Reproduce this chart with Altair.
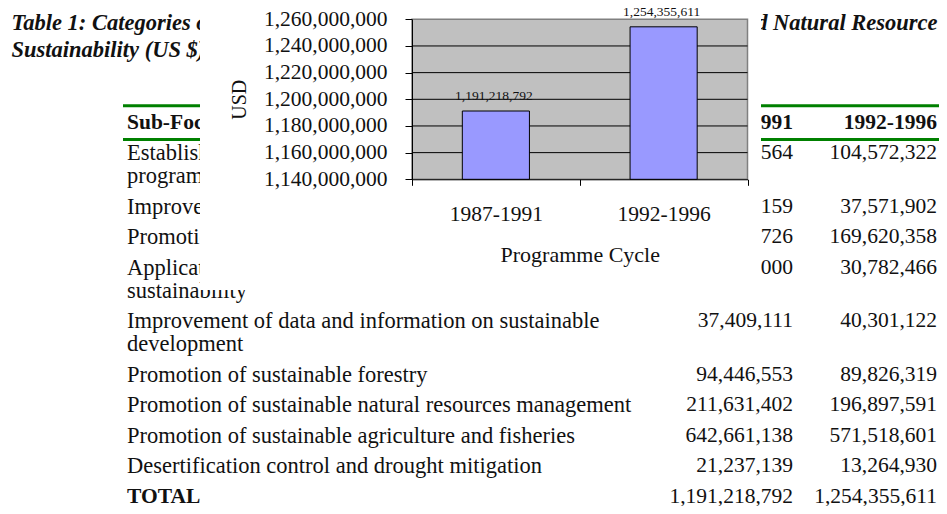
import altair as alt
import pandas as pd

# ---------------- data ----------------
cycles = ["1987-1991", "1992-1996"]
totals = [1191218792, 1254355611]
y_ticks = [1140000000, 1160000000, 1180000000, 1200000000,
           1220000000, 1240000000, 1260000000]

sub_focus = [
    "Establishment of national environmental policies and\nprogrammes",
    "Improvement of environmental management capacity",
    "Promotion of environmentally sound technologies",
    "Application of science and technology for\nsustainability",
    "Improvement of data and information on sustainable\ndevelopment",
    "Promotion of sustainable forestry",
    "Promotion of sustainable natural resources management",
    "Promotion of sustainable agriculture and fisheries",
    "Desertification control and drought mitigation",
]
funds_1987_1991 = [72420564, 28113159, 51300726, 31999000, 37409111,
                   94446553, 211631402, 642661138, 21237139]
funds_1992_1996 = [104572322, 37571902, 169620358, 30782466, 40301122,
                   89826319, 196897591, 571518601, 13264930]
total_label = "TOTAL"
header = ["Sub-Focus Area", "1987-1991", "1992-1996"]
title_left = "Table 1: Categories of UNDP Support to Environment"
title_right = "and Natural Resource"
title_line2 = "Sustainability (US $)"

# ---------------- layout / style ----------------
W, H = 931, 498
SERIF = "Liberation Serif"
INK = "#111111"
ROW_PX = 30.5          # one table row
WRAP = 23 / 30.5       # a wrapped continuation line, in row units
TABLE_TOP = 145        # first data row centre
COL0_X, COL1_X, COL2_X = 119, 785, 929
PLOT_X = [404, 739.5]
PLOT_Y = [171.3, 11.3]

# ---------------- table frames ----------------
line_rows, num_rows = [], []
pos = 0.0
for lab, a, b in zip(sub_focus, funds_1987_1991, funds_1992_1996):
    parts = lab.split("\n")
    num_rows.append({"pos": pos, "v1": a, "v2": b})
    for k, p in enumerate(parts):
        line_rows.append({"pos": pos + k * WRAP, "label": p})
    pos += 1 + (len(parts) - 1) * WRAP
total_pos = pos
num_rows.append({"pos": total_pos, "v1": totals[0], "v2": totals[1]})

line_df = pd.DataFrame(line_rows)
num_df = pd.DataFrame(num_rows)
total_df = pd.DataFrame({"pos": [total_pos], "label": [total_label]})
head_df = pd.DataFrame({"pos": [-1.0], "c0": [header[0]], "c1": [header[1]], "c2": [header[2]]})
one = pd.DataFrame({"k": [0]})

yscale_t = alt.Scale(domain=[-1, total_pos],
                     range=[TABLE_TOP - ROW_PX, TABLE_TOP + total_pos * ROW_PX])
Yt = alt.Y("pos:Q", scale=yscale_t, axis=None)

def txt(df, **kw):
    base = dict(baseline="middle", font=SERIF, color=INK)
    base.update(kw)
    return alt.Chart(df).mark_text(**base)

labels = txt(line_df, align="left", fontSize=22.5).encode(
    x=alt.value(COL0_X), y=Yt, text="label:N")
nums1 = txt(num_df, align="right", fontSize=21.5).encode(
    x=alt.value(COL1_X), y=Yt, text=alt.Text("v1:Q", format=","))
nums2 = txt(num_df, align="right", fontSize=21.5).encode(
    x=alt.value(COL2_X), y=Yt, text=alt.Text("v2:Q", format=","))
tot = txt(total_df, align="left", fontSize=21.5, fontWeight="bold").encode(
    x=alt.value(COL0_X), y=Yt, text="label:N")
h0 = txt(head_df, align="left", fontSize=21.5, fontWeight="bold").encode(
    x=alt.value(COL0_X), y=Yt, text="c0:N")
h1 = txt(head_df, align="right", fontSize=21.5, fontWeight="bold").encode(
    x=alt.value(COL1_X), y=Yt, text="c1:N")
h2 = txt(head_df, align="right", fontSize=21.5, fontWeight="bold").encode(
    x=alt.value(COL2_X), y=Yt, text="c2:N")

def green_rule(yv):
    return alt.Chart(one).mark_rule(color="#008000", strokeWidth=3).encode(
        x=alt.value(115), x2=alt.value(931), y=alt.value(yv))

rule_top = green_rule(97.7)
rule_bot = green_rule(131.5)

tdf = pd.DataFrame({"t1": [title_left], "t2": [title_right], "t3": [title_line2]})
tkw = dict(fontSize=22.5, fontWeight="bold", fontStyle="italic")
t1 = txt(tdf, align="left", **tkw).encode(x=alt.value(3.5), y=alt.value(15.3), text="t1:N")
t2 = txt(tdf, align="right", **tkw).encode(x=alt.value(929.5), y=alt.value(15.3), text="t2:N")
t3 = txt(tdf, align="left", **tkw).encode(x=alt.value(3.5), y=alt.value(42), text="t3:N")

table = alt.layer(labels, nums1, nums2, tot, h0, h1, h2, rule_top, rule_bot, t1, t2, t3)

cover = alt.Chart(one).mark_rect(fill="white").encode(
    x=alt.value(192), x2=alt.value(753), y=alt.value(0), y2=alt.value(282))

# ---------------- bar chart ----------------
bar_df = pd.DataFrame({"cycle": cycles, "total": totals})
grid_df = pd.DataFrame({"tick": y_ticks[1:-1]})

xscale = alt.Scale(domain=cycles, range=PLOT_X, paddingInner=0, paddingOuter=0)
xaxis = alt.Axis(orient="bottom", offset=PLOT_Y[0] - H, zindex=1, tickBand="extent",
                 domainColor="black", tickColor="black", tickSize=6, labelAngle=0,
                 labelFont=SERIF, labelFontSize=21.5, labelColor=INK, labelPadding=18,
                 titleFont=SERIF, titleFontSize=22, titleFontWeight="normal",
                 titleColor=INK, titlePadding=20, grid=False)
yscale = alt.Scale(domain=[y_ticks[0], y_ticks[-1]], range=PLOT_Y, zero=False, nice=False)
yaxis = alt.Axis(orient="left", offset=-PLOT_X[0], zindex=1, values=y_ticks,
                 labelExpr="format(datum.value, ',')",
                 domainColor="black", tickColor="black", tickSize=7,
                 labelFont=SERIF, labelFontSize=21.5, labelColor=INK, labelPadding=18,
                 labelOverlap=False, labelFlush=False,
                 titleFont=SERIF, titleFontSize=20, titleFontWeight="normal",
                 titleColor=INK, titlePadding=14, grid=False)

X = alt.X("cycle:N", sort=cycles, scale=xscale, axis=xaxis, title="Programme Cycle")

def Yq(field):
    return alt.Y(field, scale=yscale, axis=yaxis, title="USD")

bg = alt.Chart(one).mark_rect(fill="#C0C0C0", stroke="#808080", strokeWidth=1.5).encode(
    x=alt.value(PLOT_X[0]), x2=alt.value(PLOT_X[1]),
    y=alt.value(PLOT_Y[1]), y2=alt.value(PLOT_Y[0]))
grid = alt.Chart(grid_df).mark_rule(color="black", strokeWidth=1).encode(
    x=alt.value(PLOT_X[0]), x2=alt.value(PLOT_X[1]), y=Yq("tick:Q"))
bars = alt.Chart(bar_df).mark_bar(fill="#9999FF", stroke="black", strokeWidth=1,
                                  width=alt.RelativeBandSize(0.4)).encode(
    x=X, y=Yq("total:Q"), y2=alt.datum(y_ticks[0]))
vlabels = alt.Chart(bar_df).mark_text(baseline="middle", dy=-15, dx=-2, font=SERIF,
                                       fontSize=13.5, color=INK).encode(
    x=X, y=Yq("total:Q"), text=alt.Text("total:Q", format=","))

barchart = alt.layer(bg, grid, bars, vlabels)

chart = alt.layer(table, cover, barchart).resolve_scale(
    x="independent", y="independent"
).resolve_axis(
    x="independent", y="independent"
).properties(
    width=W, height=H, padding=0,
    autosize=alt.AutoSizeParams(type="none"),
    background="white",
).configure_view(stroke=None)

chart.save("out.html", embed_options={"renderer": "svg", "actions": False})
